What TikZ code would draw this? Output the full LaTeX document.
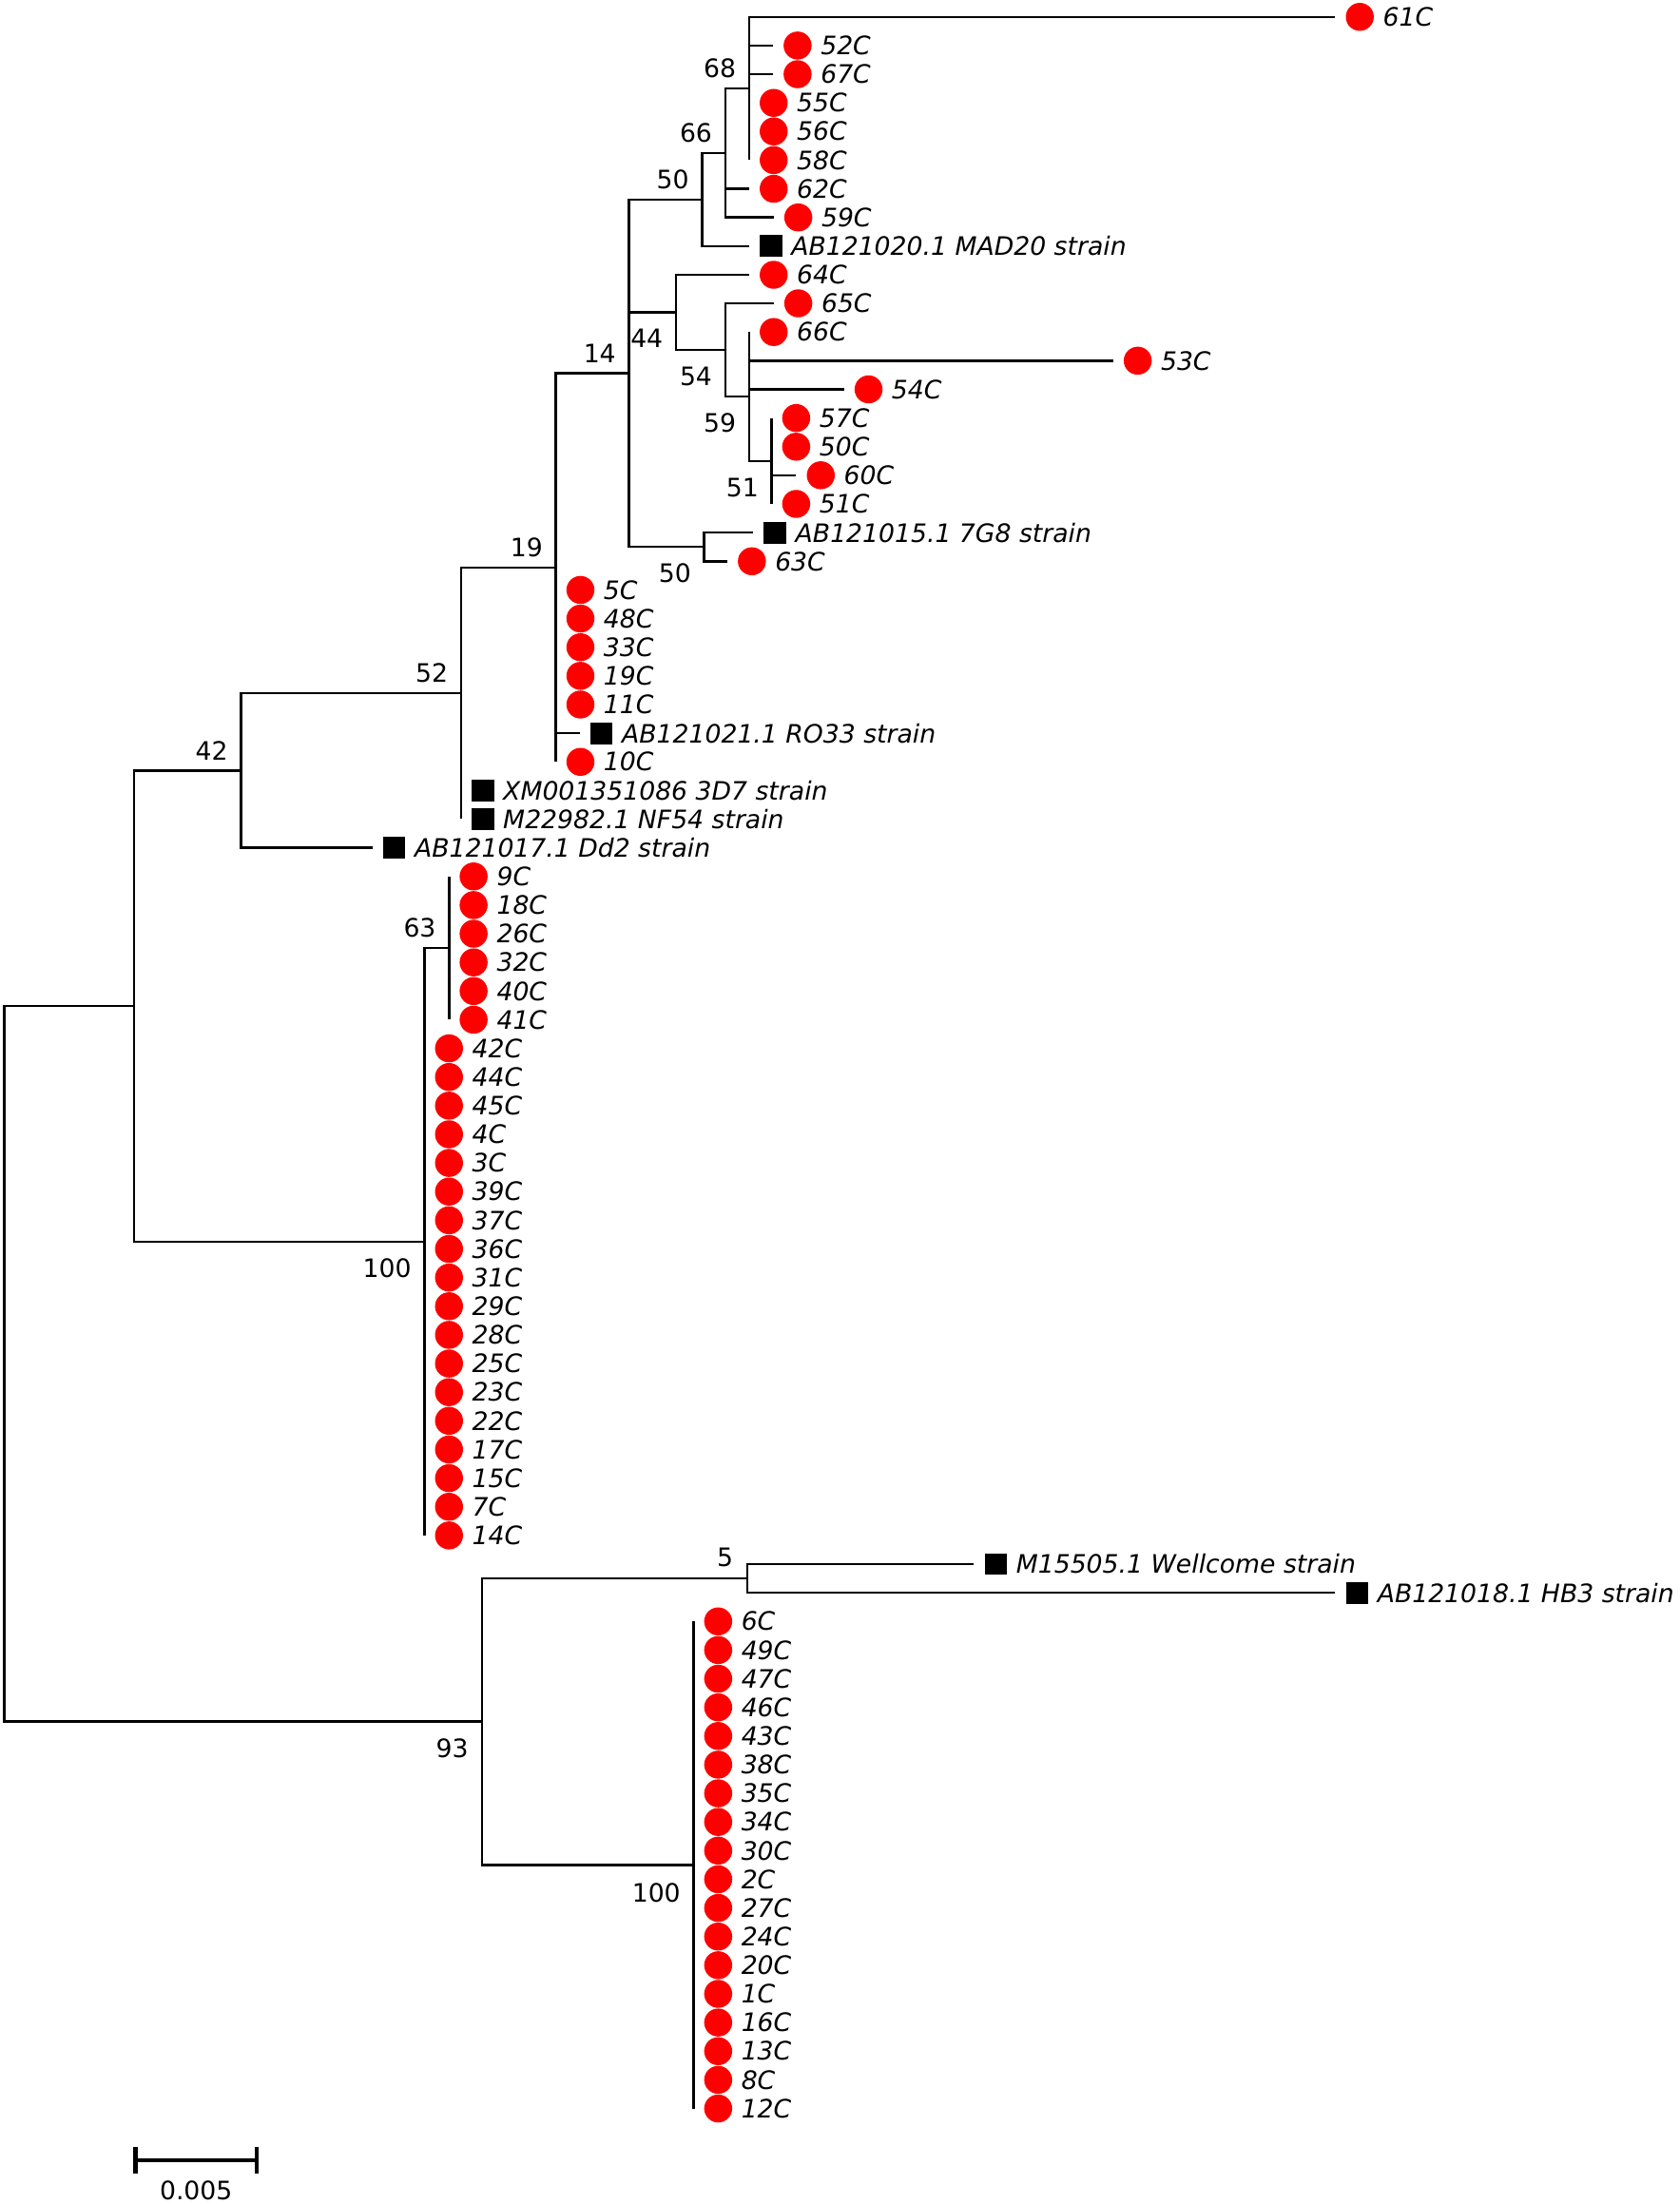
\documentclass[tikz,border=0pt]{standalone}
\usepackage{fontspec}
\setmainfont{DejaVu Sans}
\usetikzlibrary{positioning,arrows.meta}
\tikzset{
  branch/.style={line width=0.7pt},
  isolate/.style={circle, fill=red, inner sep=0pt, minimum size=8.5pt},
  strain/.style={rectangle, fill=black, inner sep=0pt, minimum width=6.8pt, minimum height=6.6pt},
  taxon/.style={font=\fontsize{7.7}{9}\selectfont\itshape, inner sep=0pt},
  boot/.style={font=\fontsize{7.7}{9}\selectfont, inner sep=0pt},
}
\begin{document}
\begin{tikzpicture}[x=0.015cm, y=-0.015cm, label distance=2.4pt]
\useasboundingbox (0,0) rectangle (1195,1568);

% internal nodes
\coordinate (root) at (3,970.3);
\coordinate (nA) at (95.5,715.8);
\coordinate (n42) at (171.5,548.2);
\coordinate (n52) at (328,493.2);
\coordinate (n19) at (395.5,403.8);
\coordinate (n14) at (447.5,265.5);
\coordinate (n50a) at (499.5,142);
\coordinate (n66) at (516,108.8);
\coordinate (n68) at (533,63);
\coordinate (n44) at (481,222.2);
\coordinate (n54) at (516,249);
\coordinate (n59) at (533,282.1);
\coordinate (n51) at (549,328);
\coordinate (n50b) at (501,389.1);
\coordinate (n100a) at (302,883.4);
\coordinate (n63) at (319.5,674.5);
\coordinate (n93) at (343,1224.8);
\coordinate (n5) at (531.5,1122.9);
\coordinate (n100b) at (493.5,1326.8);

% branch tips
\coordinate (t61) at (950,12);
\coordinate (t52) at (550,32.4);
\coordinate (t67) at (550,52.8);
\coordinate (t55) at (533,73.2);
\coordinate (t56) at (533,93.5);
\coordinate (t58) at (533,113.9);
\coordinate (t62) at (533,134.3);
\coordinate (t59) at (550.5,154.7);
\coordinate (tMAD) at (533,175.1);
\coordinate (t64) at (533,195.5);
\coordinate (t65) at (550.5,215.8);
\coordinate (t66) at (533,236.2);
\coordinate (t53) at (792,256.6);
\coordinate (t54) at (600.5,277);
\coordinate (t57) at (549,297.4);
\coordinate (t50) at (549,317.8);
\coordinate (t60) at (566.5,338.1);
\coordinate (t51) at (549,358.5);
\coordinate (t7G8) at (536,378.9);
\coordinate (t63) at (517.5,399.3);
\coordinate (tRO33) at (412.5,521.6);
\coordinate (t10) at (395.5,542);
\coordinate (t3D7) at (328,562.4);
\coordinate (tNF54) at (328,582.7);
\coordinate (tDd2) at (265,603.1);
\coordinate (tWel) at (693,1112.7);
\coordinate (tHB3) at (950,1133.1);

% isolates and reference strains
\node[isolate, right=3pt of t61, label={[taxon]right:61C}] (l61) {};
\node[isolate, right=3pt of t52, label={[taxon]right:52C}] (l52) {};
\node[isolate, right=3pt of t67, label={[taxon]right:67C}] (l67) {};
\node[isolate, right=3pt of t55, label={[taxon]right:55C}] (l55) {};
\node[isolate, right=3pt of t56, label={[taxon]right:56C}] (l56) {};
\node[isolate, right=3pt of t58, label={[taxon]right:58C}] (l58) {};
\node[isolate, right=3pt of t62, label={[taxon]right:62C}] (l62) {};
\node[isolate, right=3pt of t59, label={[taxon]right:59C}] (l59) {};
\node[strain, right=3pt of tMAD, label={[taxon]right:AB121020.1 MAD20 strain}] (lMAD) {};
\node[isolate, right=3pt of t64, label={[taxon]right:64C}] (l64) {};
\node[isolate, right=3pt of t65, label={[taxon]right:65C}] (l65) {};
\node[isolate, right=3pt of t66, label={[taxon]right:66C}] (l66) {};
\node[isolate, right=3pt of t53, label={[taxon]right:53C}] (l53) {};
\node[isolate, right=3pt of t54, label={[taxon]right:54C}] (l54) {};
\node[isolate, right=3pt of t57, label={[taxon]right:57C}] (l57) {};
\node[isolate, right=3pt of t50, label={[taxon]right:50C}] (l50) {};
\node[isolate, right=3pt of t60, label={[taxon]right:60C}] (l60) {};
\node[isolate, right=3pt of t51, label={[taxon]right:51C}] (l51) {};
\node[strain, right=3pt of t7G8, label={[taxon]right:AB121015.1 7G8 strain}] (l7G8) {};
\node[isolate, right=3pt of t63, label={[taxon]right:63C}] (l63) {};
\foreach \n [count=\i from 20] in {5,48,33,19,11} {
  \coordinate (t\n) at (395.5,{12+20.384*\i});
  \node[isolate, right=3pt of t\n, label={[taxon]right:\n C}] (l\n) {};
}
\node[strain, right=3pt of tRO33, label={[taxon]right:AB121021.1 RO33 strain}] (lRO33) {};
\node[isolate, right=3pt of t10, label={[taxon]right:10C}] (l10) {};
\node[strain, right=3pt of t3D7, label={[taxon]right:XM001351086 3D7 strain}] (l3D7) {};
\node[strain, right=3pt of tNF54, label={[taxon]right:M22982.1 NF54 strain}] (lNF54) {};
\node[strain, right=3pt of tDd2, label={[taxon]right:AB121017.1 Dd2 strain}] (lDd2) {};
\foreach \n [count=\i from 30] in {9,18,26,32,40,41} {
  \coordinate (t\n) at (319.5,{12+20.384*\i});
  \node[isolate, right=3pt of t\n, label={[taxon]right:\n C}] (l\n) {};
}
\foreach \n [count=\i from 36] in {42,44,45,4,3,39,37,36,31,29,28,25,23,22,17,15,7,14} {
  \coordinate (t\n) at (302,{12+20.384*\i});
  \node[isolate, right=3pt of t\n, label={[taxon]right:\n C}] (l\n) {};
}
\node[strain, right=3pt of tWel, label={[taxon]right:M15505.1 Wellcome strain}] (lWel) {};
\node[strain, right=3pt of tHB3, label={[taxon]right:AB121018.1 HB3 strain}] (lHB3) {};
\foreach \n [count=\i from 56] in {6,49,47,46,43,38,35,34,30,2,27,24,20,1,16,13,8,12} {
  \coordinate (t\n) at (493.5,{12+20.384*\i});
  \node[isolate, right=3pt of t\n, label={[taxon]right:\n C}] (l\n) {};
}

% branches
\draw[branch] (root) |- (nA) (root) |- (n93);
\draw[branch] (nA) |- (n42) (nA) |- (n100a);
\draw[branch] (n42) |- (n52) (n42) |- (tDd2);
\draw[branch] (n52) |- (n19) (n52) |- (t3D7) (n52) |- (tNF54);
\draw[branch] (n19) |- (n14) (n19) |- (tRO33) (n19) |- (t10);
\draw[branch] (n14) |- (n50a) (n14) |- (n44) (n14) |- (n50b);
\draw[branch] (n50a) |- (n66) (n50a) |- (tMAD);
\draw[branch] (n66) |- (n68) (n66) |- (t62) (n66) |- (t59);
\draw[branch] (n68) |- (t61) (n68) |- (t52) (n68) |- (t67) (n68) |- (t58);
\draw[branch] (n44) |- (t64) (n44) |- (n54);
\draw[branch] (n54) |- (t65) (n54) |- (n59);
\draw[branch] (n59) |- (t66) (n59) |- (t53) (n59) |- (t54) (n59) |- (n51);
\draw[branch] (n51) |- (t57) (n51) |- (t60) (n51) |- (t51);
\draw[branch] (n50b) |- (t7G8) (n50b) |- (t63);
\draw[branch] (n100a) |- (n63) (n100a) |- (t14);
\draw[branch] (n63) |- (t9) (n63) |- (t41);
\draw[branch] (n93) |- (n5) (n93) |- (n100b);
\draw[branch] (n5) |- (tWel) (n5) |- (tHB3);
\draw[branch] (n100b) |- (t6) (n100b) |- (t12);

% bootstrap values
\node[boot, above left=3pt and 3.8pt of n68] (b68) {68};
\node[boot, above left=3pt and 3.8pt of n66] (b66) {66};
\node[boot, above left=3pt and 3.8pt of n50a] (b50a) {50};
\node[boot, above left=3pt and 3.8pt of n14] (b14) {14};
\node[boot, below left=4.9pt and 3.8pt of n44] (b44) {44};
\node[boot, below left=4.9pt and 3.8pt of n54] (b54) {54};
\node[boot, below left=4.9pt and 3.8pt of n59] (b59) {59};
\node[boot, below left=4.9pt and 3.8pt of n51] (b51) {51};
\node[boot, below left=4.9pt and 3.8pt of n50b] (b50b) {50};
\node[boot, above left=3pt and 3.8pt of n19] (b19) {19};
\node[boot, above left=3pt and 3.8pt of n52] (b52) {52};
\node[boot, above left=3pt and 3.8pt of n42] (b42) {42};
\node[boot, above left=3pt and 3.8pt of n63] (b63) {63};
\node[boot, below left=4.9pt and 3.8pt of n100a] (b100a) {100};
\node[boot, above left=3.4pt and 4pt of n5] (b5) {5};
\node[boot, below left=4.9pt and 4pt of n93] (b93) {93};
\node[boot, below left=5.3pt and 3.8pt of n100b] (b100b) {100};

% scale bar
\coordinate (sbl) at (95,1537);
\coordinate (sbr) at (184,1537);
\draw[line width=1.2pt, {Bar[width=8pt]}-{Bar[width=8pt]}] (sbl) -- (sbr);
\node[boot] (sblab) at (139.5,1558.5) {0.005};
\end{tikzpicture}
\end{document}
